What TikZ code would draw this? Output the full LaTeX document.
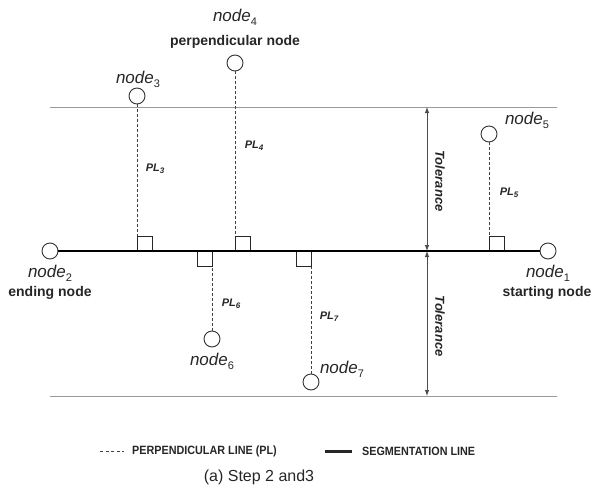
\documentclass[tikz,border=0pt]{standalone}
\usepackage{fontspec}
\setmainfont{Liberation Sans}
\usetikzlibrary{arrows.meta}
\newcommand\mysub[1]{\raisebox{-0.45ex}{\upshape\fontsize{11}{12}\selectfont #1}}
\newcommand\mysmallsub[1]{\raisebox{-0.4ex}{\fontsize{8}{9}\selectfont #1}}
\begin{document}
\begin{tikzpicture}[x=1pt,y=-1pt,
  pnode/.style={circle,draw=black!80,line width=0.9pt,fill=white,minimum size=16pt,inner sep=0pt},
  nlabel/.style={font=\fontsize{17}{19}\selectfont\itshape,inner sep=0pt,text=black!85},
  blabel/.style={font=\fontsize{14}{16}\selectfont\bfseries,inner sep=0pt,text=black!85},
  pllabel/.style={font=\fontsize{11}{13}\selectfont\bfseries\itshape,inner sep=0pt,text=black!85},
  tollabel/.style={font=\fontsize{13}{15}\selectfont\bfseries\itshape,inner sep=0pt,rotate=-90,text=black!85},
  legtext/.style={font=\fontsize{12}{14}\selectfont\bfseries,inner sep=0pt,anchor=west,text=black!85,xscale=0.9},
  tolline/.style={draw=black!40,line width=0.8pt},
  perpline/.style={draw=black!75,line width=0.6pt,dash pattern=on 3pt off 2pt},
  segline/.style={draw=black,line width=2.4pt},
  rightsq/.style={draw=black!85,line width=0.7pt},
  tolarrow/.style={draw=black!70,line width=0.9pt,{Latex[length=6pt,width=4.5pt]}-{Latex[length=6pt,width=4.5pt]}}
]
\useasboundingbox (0,0) rectangle (593,492);

% tolerance boundary lines
\coordinate (tl1) at (50,107);
\coordinate (tl2) at (557,107);
\coordinate (bl1) at (50,396);
\coordinate (bl2) at (557,396);
\draw[tolline] (tl1) -- (tl2);
\draw[tolline] (bl1) -- (bl2);

% nodes
\node[pnode] (n1) at (548,251) {};
\node[pnode] (n2) at (50,251) {};
\node[pnode] (n3) at (137,96) {};
\node[pnode] (n4) at (235,63) {};
\node[pnode] (n5) at (489,134) {};
\node[pnode] (n6) at (212,339) {};
\node[pnode] (n7) at (311,382) {};

% feet of perpendiculars
\coordinate (f3) at (137,251);
\coordinate (f4) at (235,251);
\coordinate (f5) at (489,251);
\coordinate (f6) at (212,251);
\coordinate (f7) at (311,251);

% perpendicular lines
\draw[perpline] (n3) -- (f3);
\draw[perpline] (n4) -- (f4);
\draw[perpline] (n5) -- (f5);
\draw[perpline] (n6) -- (f6);
\draw[perpline] (n7) -- (f7);

% right-angle squares
\draw[rightsq] (f3) rectangle ++(15,-15);
\draw[rightsq] (f4) rectangle ++(15,-15);
\draw[rightsq] (f5) rectangle ++(15,-15);
\draw[rightsq] (f6) rectangle ++(-15,15);
\draw[rightsq] (f7) rectangle ++(-15,15);

% segmentation line
\draw[segline] (n2) -- (n1);

% tolerance arrows
\coordinate (tm) at (427,251);
\coordinate (tt) at (427,107);
\coordinate (tb) at (427,396);
\draw[tolarrow] (tm) -- (tt);
\draw[tolarrow] (tm) -- (tb);
\node[tollabel] (tol1) at (440,181) {Tolerance};
\node[tollabel] (tol2) at (440,326) {Tolerance};

% node labels
\node[nlabel] (l4) at (235,17) {node\mysub{4}};
\node[blabel] (p4) at (235,42) {perpendicular node};
\node[nlabel] (l3) at (138,79) {node\mysub{3}};
\node[nlabel] (l5) at (527,120) {node\mysub{5}};
\node[nlabel] (l6) at (212,361) {node\mysub{6}};
\node[nlabel] (l7) at (342,369) {node\mysub{7}};
\node[nlabel] (l2) at (50,273) {node\mysub{2}};
\node[blabel] (e2) at (50,293) {ending node};
\node[nlabel] (l1) at (548,273) {node\mysub{1}};
\node[blabel] (s1) at (547,293) {starting node};

% PL labels
\node[pllabel] (pl3) at (155,169) {PL\mysmallsub{3}};
\node[pllabel] (pl4) at (254,146) {PL\mysmallsub{4}};
\node[pllabel] (pl5) at (509,193) {PL\mysmallsub{5}};
\node[pllabel] (pl6) at (231,304) {PL\mysmallsub{6}};
\node[pllabel] (pl7) at (329,317) {PL\mysmallsub{7}};

% legend
\coordinate (lg1a) at (100,451);
\coordinate (lg1b) at (124,451);
\draw[perpline,dash pattern=on 3pt off 2.5pt] (lg1a) -- (lg1b);
\node[legtext] (lt1) at (132,451) {PERPENDICULAR LINE (PL)};
\coordinate (lg2a) at (325,451);
\coordinate (lg2b) at (352,451);
\draw[draw=black!85,line width=3pt] (lg2a) -- (lg2b);
\node[legtext] (lt2) at (362,451) {SEGMENTATION LINE};

% caption
\node[font=\fontsize{16}{18}\selectfont,inner sep=0pt,text=black!85] (cap) at (259,477) {(a) Step 2 and3};
\end{tikzpicture}
\end{document}
